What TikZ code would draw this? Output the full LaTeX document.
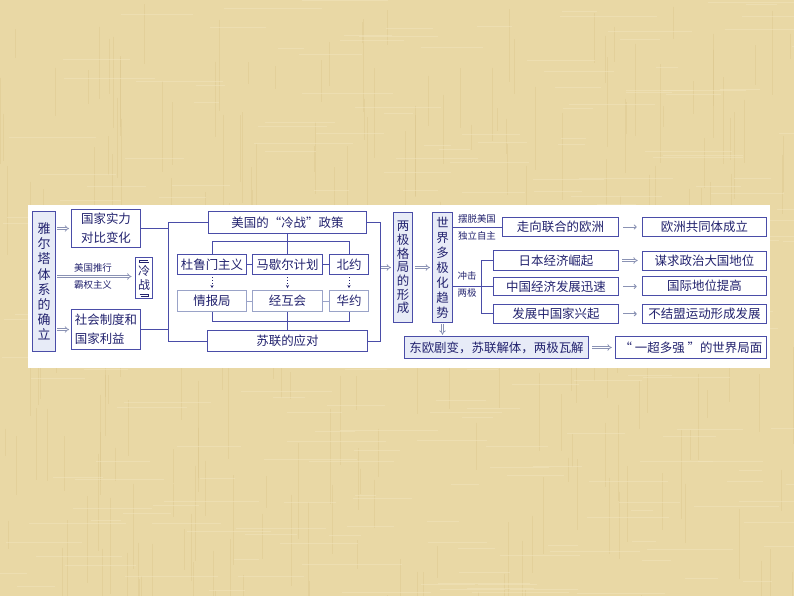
\documentclass[tikz,border=0pt]{standalone}
\usepackage{fontspec}
\setmainfont{Noto Sans CJK SC}
\usetikzlibrary{arrows.meta}
\definecolor{bg}{HTML}{E9D8A5}
\definecolor{bgline}{HTML}{DCC78E}
\definecolor{bglight}{HTML}{F1E4BC}
\definecolor{bord}{HTML}{4A4DA8}
\definecolor{txt}{HTML}{22226E}
\definecolor{lfill}{HTML}{E7EBF7}
\definecolor{lbord}{HTML}{9AA3C8}
\definecolor{arr}{HTML}{8A92B4}
\tikzset{
  box/.style={draw=bord, line width=1bp, fill=white, text=txt, inner sep=0pt,
    font=\fontsize{12.5}{15}\selectfont, align=center},
  lbox/.style={box, fill=lfill},
  boxtwo/.style={box, draw=lbord},
  conn/.style={draw=bord, line width=0.8bp},
  darr/.style={draw=arr, double=white, double distance=1.4bp, line width=0.75bp, -{Implies}},
  sarr/.style={draw=arr, line width=1bp, -{To[length=3bp,width=5bp]}},
  dotarr/.style={draw=txt, dotted, line width=0.9bp, -{Stealth[length=3bp,width=3bp]}},
  small/.style={text=txt, font=\fontsize{9.5}{11}\selectfont, inner sep=0pt},
  brk/.style={draw=txt, line width=0.8bp},
}
\begin{document}
\begin{tikzpicture}[x=1bp,y=-1bp]
\useasboundingbox (0,0) rectangle (794,596);
\fill[bg] (0,0) rectangle (794,596);
\pgfmathsetseed{7}
\foreach \i in {1,...,260}{
  \pgfmathsetmacro{\xx}{rnd*794}
  \pgfmathsetmacro{\yy}{rnd*596}
  \pgfmathsetmacro{\ll}{20+rnd*80}
  \draw[bgline, line width=0.5bp, opacity=0.45] (\xx,\yy) -- ++(0,\ll);
}
\foreach \i in {1,...,260}{
  \pgfmathsetmacro{\xx}{rnd*794}
  \pgfmathsetmacro{\yy}{rnd*596}
  \pgfmathsetmacro{\ll}{20+rnd*80}
  \draw[bglight, line width=0.5bp, opacity=0.55] (\xx,\yy) -- ++(\ll,0);
}
\fill[white] (28,205) rectangle (770,368);

% left column
\node[lbox, minimum width=24, minimum height=141, font=\fontsize{13}{15.2}\selectfont] (yalta) at (44,281.5) {雅\\尔\\塔\\体\\系\\的\\确\\立};
\node[box, minimum width=70, minimum height=38, font=\fontsize{12.5}{19}\selectfont] (guojia) at (106,228.5) {国家实力\\对比变化};
\node[box, minimum width=70, minimum height=41, font=\fontsize{12.5}{19}\selectfont, align=left] (shehui) at (106,329.5) {社会制度和\\国家利益};
\node[box, minimum width=18, minimum height=41, font=\fontsize{12}{14.5}\selectfont] (lengzhan) at (144,278) {冷\\战};
\draw[brk] (139.5,259.5) -- (139.5,262.5) -- (148.5,262.5);
\draw[brk] (139.5,260.5) -- (147.5,260.5);
\draw[brk] (139.5,294) -- (148.5,294) -- (148.5,297);
\draw[brk] (140.5,296) -- (148.5,296);
\node[small] (tuixing) at (93,268) {美国推行};
\node[small] (baquan) at (93,285) {霸权主义};

\draw[darr, shorten <=1bp, shorten >=1.5bp] (yalta.east |- guojia.west) -- (guojia.west);
\draw[darr, shorten <=1bp, shorten >=1.5bp] (yalta.east |- shehui.west) -- (shehui.west);
\coordinate (mz) at (0,276.5);
\draw[darr, shorten <=1bp, shorten >=3bp] (yalta.east |- mz) -- (lengzhan.west |- mz);

% middle block
\node[box, minimum width=159, minimum height=21.5] (meiguo) at (287.5,222.5) {美国的“冷战”政策};
\node[box, minimum width=160, minimum height=22] (sulian) at (287.5,341) {苏联的应对};
\node[box, minimum width=70, minimum height=21] (dulumen) at (212,264.5) {杜鲁门主义};
\node[box, minimum width=70, minimum height=21] (maxieer) at (287.5,264.5) {马歇尔计划};
\node[box, minimum width=40, minimum height=21] (beiyue) at (349,264.5) {北约};
\node[boxtwo, minimum width=70, minimum height=22] (qingbao) at (212,301) {情报局};
\node[boxtwo, minimum width=70, minimum height=22] (jinghu) at (287.5,301) {经互会};
\node[boxtwo, minimum width=40, minimum height=22] (huayue) at (349,301) {华约};

\coordinate (lt) at (168,222.5);
\coordinate (lb) at (168,341);
\draw[conn] (meiguo.west) -- (lt) -- (lb) -- (sulian.west);
\draw[conn] (guojia.east) -- (guojia.east -| lt);
\draw[conn] (shehui.east) -- (shehui.east -| lt);

\coordinate (tb) at (287.5,241.7);
\draw[conn] (meiguo.south) -- (tb);
\draw[conn] (dulumen.north) -- (dulumen.north |- tb) -- (beiyue.north |- tb) -- (beiyue.north);
\draw[conn] (maxieer.north) -- (tb);
\draw[conn] (dulumen.east) -- (maxieer.west);
\draw[conn] (maxieer.east) -- (beiyue.west);
\draw[conn, draw=lbord] (qingbao.east) -- (jinghu.west);
\draw[conn, draw=lbord] (jinghu.east) -- (huayue.west);
\draw[dotarr, shorten <=2bp, shorten >=1.5bp] (dulumen.south) -- (qingbao.north);
\draw[dotarr, shorten <=2bp, shorten >=1.5bp] (maxieer.south) -- (jinghu.north);
\draw[dotarr, shorten <=2bp, shorten >=1.5bp] (beiyue.south) -- (huayue.north);

\coordinate (bb) at (287.5,321.7);
\draw[conn] (qingbao.south) -- (qingbao.south |- bb) -- (huayue.south |- bb) -- (huayue.south);
\draw[conn] (jinghu.south) -- (sulian.north);

\coordinate (rt) at (380,222.5);
\coordinate (rb) at (380,341);
\draw[conn] (meiguo.east) -- (rt) -- (rb) -- (sulian.east);

% bipolar and multipolar
\node[lbox, minimum width=20, minimum height=111, font=\fontsize{12.5}{13.8}\selectfont] (liangji) at (403,267.5) {两\\极\\格\\局\\的\\形\\成};
\node[lbox, minimum width=21, minimum height=111, font=\fontsize{12.5}{15}\selectfont] (shijie) at (442.5,267.5) {世\\界\\多\\极\\化\\趋\\势};
\coordinate (rm) at (380,267.5);
\draw[darr, shorten <=1bp, shorten >=1.5bp] (rm) -- (liangji.west);
\draw[darr, shorten <=1.5bp, shorten >=1.5bp] (liangji.east) -- (shijie.west);

\node[box, minimum width=117, minimum height=20] (ouzhou) at (560.5,227) {走向联合的欧洲};
\node[box, minimum width=126, minimum height=20] (riben) at (556,260.5) {日本经济崛起};
\node[box, minimum width=126, minimum height=19] (zhongguo) at (556,286.5) {中国经济发展迅速};
\node[box, minimum width=126, minimum height=19.5] (fazhan) at (556,313.8) {发展中国家兴起};

\node[small] (baituo) at (477,219) {摆脱美国};
\node[small] (duli) at (477,235.5) {独立自主};
\draw[conn] (shijie.east |- ouzhou.west) -- (ouzhou.west);

\node[small] (chongji) at (467,276) {冲击};
\node[small] (liangjis) at (467,293) {两极};
\coordinate (cj) at (481,286);
\draw[conn] (shijie.east |- cj) -- (cj);
\draw[conn] (riben.west) -- (riben.west -| cj) -- (fazhan.west -| cj) -- (fazhan.west);
\draw[conn] (zhongguo.west) -- (zhongguo.west -| cj);

\node[box, minimum width=125, minimum height=20] (ozgt) at (704.5,227) {欧洲共同体成立};
\node[box, minimum width=125, minimum height=19] (mouqiu) at (704.5,261) {谋求政治大国地位};
\node[box, minimum width=125, minimum height=18.5] (guoji) at (704.5,286) {国际地位提高};
\node[box, minimum width=125, minimum height=20] (bujm) at (704.5,314) {不结盟运动形成发展};

\draw[sarr, shorten <=4bp, shorten >=5bp] (ouzhou.east) -- (ozgt.west);
\draw[darr, shorten <=3bp, shorten >=4bp] (riben.east) -- (riben.east -| mouqiu.west);
\draw[sarr, shorten <=4bp, shorten >=5bp] (zhongguo.east) -- (zhongguo.east -| guoji.west);
\draw[sarr, shorten <=4bp, shorten >=5bp] (fazhan.east) -- (fazhan.east -| bujm.west);

\node[lbox, minimum width=185, minimum height=21.5] (dongou) at (496.5,347.5) {东欧剧变，苏联解体，两极瓦解};
\node[box, minimum width=152, minimum height=21.5] (yichao) at (691,347.5) {“ 一超多强 ”的世界局面};
\draw[darr, shorten <=1bp, shorten >=1.5bp] (shijie.south) -- (shijie.south |- dongou.north);
\draw[darr, shorten <=3bp, shorten >=3bp] (dongou.east) -- (yichao.west);
\end{tikzpicture}
\end{document}
